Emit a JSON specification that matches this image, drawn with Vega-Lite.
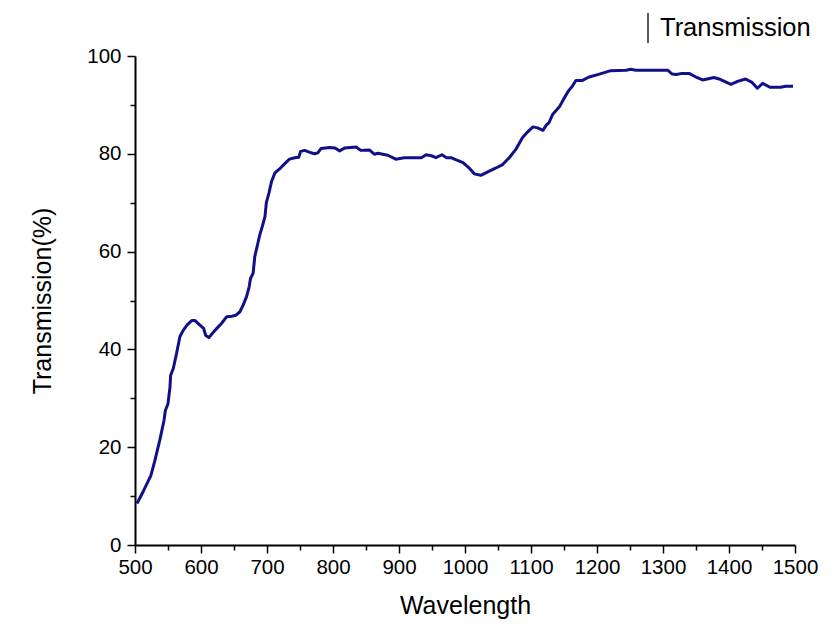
{
  "$schema": "https://vega.github.io/schema/vega-lite/v6.json",
  "autosize": "none",
  "width": 660,
  "height": 489,
  "padding": {"left": 135, "top": 56, "right": 42, "bottom": 80},
  "background": "white",
  "config": {
    "view": {"stroke": null},
    "axis": {
      "labelFont": "Liberation Sans",
      "titleFont": "Liberation Sans",
      "labelColor": "#000",
      "titleColor": "#000",
      "titleFontWeight": "normal",
      "domainColor": "#000",
      "domainWidth": 2,
      "tickColor": "#000",
      "tickWidth": 1.5,
      "grid": false,
      "labelFontSize": 20.5,
      "titleFontSize": 25
    }
  },
  "data": {
    "values": [
      {"wavelength": 503, "transmission": 8.5},
      {"wavelength": 513, "transmission": 11.1},
      {"wavelength": 524, "transmission": 14.2},
      {"wavelength": 530, "transmission": 17.2},
      {"wavelength": 538, "transmission": 21.7},
      {"wavelength": 544, "transmission": 25.5},
      {"wavelength": 546, "transmission": 27.5},
      {"wavelength": 550, "transmission": 28.9},
      {"wavelength": 553, "transmission": 32.3},
      {"wavelength": 554, "transmission": 34.7},
      {"wavelength": 558, "transmission": 36.1},
      {"wavelength": 563, "transmission": 39.2},
      {"wavelength": 568, "transmission": 42.6},
      {"wavelength": 573, "transmission": 43.9},
      {"wavelength": 579, "transmission": 45.0},
      {"wavelength": 586, "transmission": 45.9},
      {"wavelength": 591, "transmission": 45.9},
      {"wavelength": 598, "transmission": 45.0},
      {"wavelength": 604, "transmission": 44.3},
      {"wavelength": 607, "transmission": 42.9},
      {"wavelength": 612, "transmission": 42.4},
      {"wavelength": 618, "transmission": 43.4},
      {"wavelength": 624, "transmission": 44.3},
      {"wavelength": 631, "transmission": 45.3},
      {"wavelength": 639, "transmission": 46.7},
      {"wavelength": 647, "transmission": 46.8},
      {"wavelength": 653, "transmission": 47.0},
      {"wavelength": 659, "transmission": 47.7},
      {"wavelength": 664, "transmission": 49.1},
      {"wavelength": 669, "transmission": 50.8},
      {"wavelength": 673, "transmission": 52.8},
      {"wavelength": 675, "transmission": 54.5},
      {"wavelength": 679, "transmission": 55.6},
      {"wavelength": 681.5, "transmission": 59.0},
      {"wavelength": 685, "transmission": 61.0},
      {"wavelength": 689, "transmission": 63.4},
      {"wavelength": 693, "transmission": 65.2},
      {"wavelength": 697, "transmission": 67.2},
      {"wavelength": 699, "transmission": 70.0},
      {"wavelength": 703, "transmission": 72.0},
      {"wavelength": 707, "transmission": 74.4},
      {"wavelength": 712, "transmission": 76.1},
      {"wavelength": 719, "transmission": 76.9},
      {"wavelength": 727, "transmission": 78.0},
      {"wavelength": 734, "transmission": 78.9},
      {"wavelength": 742, "transmission": 79.2},
      {"wavelength": 748, "transmission": 79.3},
      {"wavelength": 751, "transmission": 80.5},
      {"wavelength": 757, "transmission": 80.7},
      {"wavelength": 765, "transmission": 80.3},
      {"wavelength": 772, "transmission": 80.0},
      {"wavelength": 777, "transmission": 80.2},
      {"wavelength": 782, "transmission": 81.1},
      {"wavelength": 795, "transmission": 81.3},
      {"wavelength": 803, "transmission": 81.2},
      {"wavelength": 810, "transmission": 80.6},
      {"wavelength": 818, "transmission": 81.2},
      {"wavelength": 835, "transmission": 81.4},
      {"wavelength": 842, "transmission": 80.7},
      {"wavelength": 855, "transmission": 80.8},
      {"wavelength": 863, "transmission": 79.9},
      {"wavelength": 868, "transmission": 80.1},
      {"wavelength": 883, "transmission": 79.7},
      {"wavelength": 895, "transmission": 78.9},
      {"wavelength": 908, "transmission": 79.2},
      {"wavelength": 934, "transmission": 79.2},
      {"wavelength": 941, "transmission": 79.8},
      {"wavelength": 949, "transmission": 79.6},
      {"wavelength": 956, "transmission": 79.2},
      {"wavelength": 965, "transmission": 79.8},
      {"wavelength": 972, "transmission": 79.2},
      {"wavelength": 979, "transmission": 79.2},
      {"wavelength": 984, "transmission": 78.9},
      {"wavelength": 997, "transmission": 78.2},
      {"wavelength": 1007, "transmission": 77.0},
      {"wavelength": 1014, "transmission": 75.9},
      {"wavelength": 1024, "transmission": 75.6},
      {"wavelength": 1036, "transmission": 76.4},
      {"wavelength": 1047, "transmission": 77.1},
      {"wavelength": 1057, "transmission": 77.8},
      {"wavelength": 1067, "transmission": 79.2},
      {"wavelength": 1077, "transmission": 80.9},
      {"wavelength": 1087, "transmission": 83.3},
      {"wavelength": 1095, "transmission": 84.5},
      {"wavelength": 1103, "transmission": 85.5},
      {"wavelength": 1110, "transmission": 85.3},
      {"wavelength": 1118, "transmission": 84.8},
      {"wavelength": 1124, "transmission": 86.0},
      {"wavelength": 1127, "transmission": 86.3},
      {"wavelength": 1133, "transmission": 88.1},
      {"wavelength": 1143, "transmission": 89.6},
      {"wavelength": 1150, "transmission": 91.3},
      {"wavelength": 1156, "transmission": 92.7},
      {"wavelength": 1163, "transmission": 93.9},
      {"wavelength": 1168, "transmission": 95.0},
      {"wavelength": 1178, "transmission": 95.0},
      {"wavelength": 1188, "transmission": 95.7},
      {"wavelength": 1201, "transmission": 96.2},
      {"wavelength": 1211, "transmission": 96.6},
      {"wavelength": 1221, "transmission": 97.0},
      {"wavelength": 1244, "transmission": 97.1},
      {"wavelength": 1251, "transmission": 97.3},
      {"wavelength": 1259, "transmission": 97.1},
      {"wavelength": 1307, "transmission": 97.1},
      {"wavelength": 1314, "transmission": 96.3},
      {"wavelength": 1320, "transmission": 96.2},
      {"wavelength": 1327, "transmission": 96.4},
      {"wavelength": 1340, "transmission": 96.4},
      {"wavelength": 1350, "transmission": 95.7},
      {"wavelength": 1360, "transmission": 95.1},
      {"wavelength": 1367, "transmission": 95.3},
      {"wavelength": 1377, "transmission": 95.6},
      {"wavelength": 1385, "transmission": 95.3},
      {"wavelength": 1393, "transmission": 94.8},
      {"wavelength": 1403, "transmission": 94.2},
      {"wavelength": 1413, "transmission": 94.8},
      {"wavelength": 1425, "transmission": 95.3},
      {"wavelength": 1435, "transmission": 94.6},
      {"wavelength": 1443, "transmission": 93.4},
      {"wavelength": 1451, "transmission": 94.4},
      {"wavelength": 1462, "transmission": 93.6},
      {"wavelength": 1478, "transmission": 93.6},
      {"wavelength": 1486, "transmission": 93.8},
      {"wavelength": 1497, "transmission": 93.8}
    ]
  },
  "encoding": {
    "x": {
      "field": "wavelength",
      "type": "quantitative",
      "scale": {"domain": [500, 1500], "nice": false, "zero": false},
      "axis": {
        "title": "Wavelength",
        "values": [500, 550, 600, 650, 700, 750, 800, 850, 900, 950, 1000, 1050, 1100, 1150, 1200, 1250, 1300, 1350, 1400, 1450, 1500],
        "format": "d",
        "labelExpr": "datum.value % 100 === 0 ? datum.label : ''",
        "tickSize": {"condition": {"test": "datum.value % 100 === 0", "value": 8}, "value": 5},
        "labelPadding": 4,
        "labelFlush": false,
        "titlePadding": 16
      }
    },
    "y": {
      "field": "transmission",
      "type": "quantitative",
      "scale": {"domain": [0, 100], "nice": false},
      "axis": {
        "title": "Transmission(%)",
        "values": [0, 10, 20, 30, 40, 50, 60, 70, 80, 90, 100],
        "labelExpr": "datum.value % 20 === 0 ? datum.label : ''",
        "tickSize": {"condition": {"test": "datum.value % 20 === 0", "value": 8}, "value": 5},
        "labelPadding": 6,
        "labelFlush": false,
        "titlePadding": 31
      }
    }
  },
  "layer": [
    {
      "mark": {"type": "line", "strokeWidth": 3, "strokeJoin": "round", "color": "#10108a"}
    },
    {
      "mark": {"type": "line", "strokeWidth": 1.5, "opacity": 0},
      "encoding": {
        "color": {
          "datum": "Transmission",
          "type": "nominal",
          "scale": {"range": ["#222222"]},
          "legend": {
            "title": null,
            "orient": "none",
            "legendX": 497,
            "legendY": -44,
            "padding": 0,
            "symbolType": "M0,-1L0,1",
            "symbolSize": 900,
            "symbolStrokeWidth": 1.5,
            "symbolOpacity": 1,
            "labelFont": "Liberation Sans",
            "labelFontSize": 25.5,
            "labelColor": "#000",
            "labelOffset": -4,
            "encode": {
              "symbols": {"update": {"opacity": {"value": 1}, "strokeOpacity": {"value": 1}}}
            }
          }
        }
      }
    }
  ]
}
